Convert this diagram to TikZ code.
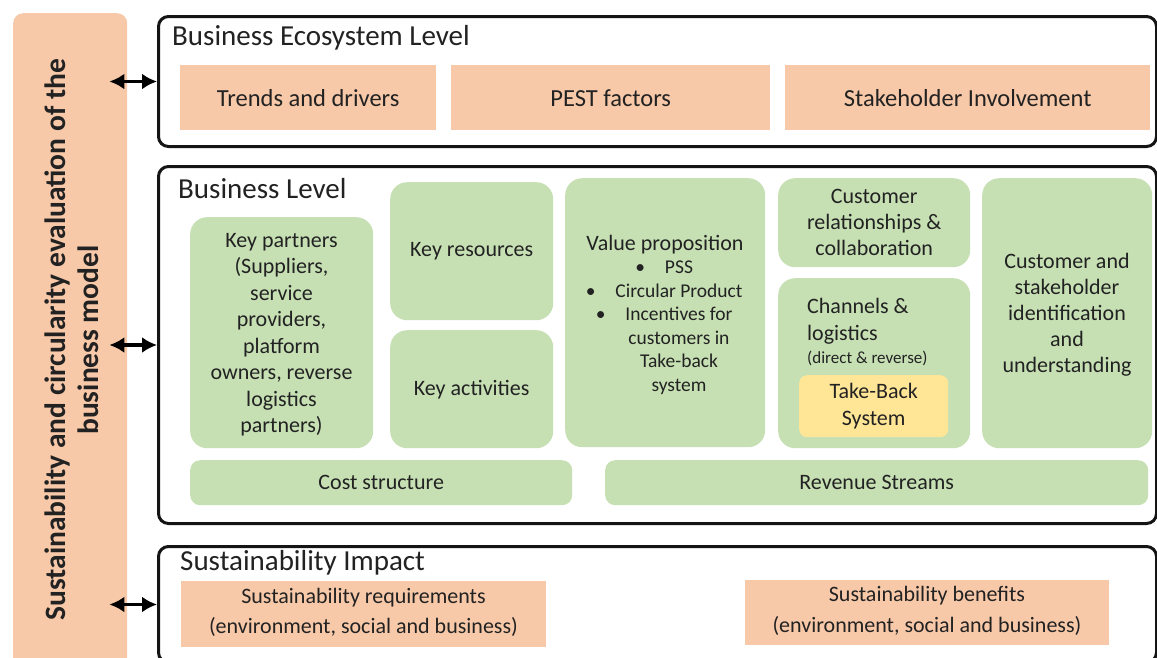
\documentclass[tikz,border=0pt]{standalone}
\usepackage{fontspec}
\setmainfont{Carlito}
\usetikzlibrary{arrows.meta}
\definecolor{peachc}{HTML}{F8C9A9}
\definecolor{greenc}{HTML}{C6E0B4}
\definecolor{yellowc}{HTML}{FFE596}
\definecolor{txt}{HTML}{222222}
\newcommand{\bodyfont}{\fontsize{22}{26.5}\selectfont}
\newcommand{\itemfont}{\fontsize{19.5}{23.5}\selectfont}
\newcommand{\bul}{\llap{\textbullet\hspace{20pt}}}
\tikzset{
  sz/.style 2 args={minimum width=#1pt, minimum height=#2pt},
  frame/.style={draw=black!92, line width=3pt, rounded corners=10pt, anchor=north west, inner sep=0pt},
  peachbox/.style={fill=peachc, anchor=north west, inner sep=0pt, align=center, text=txt},
  greenbox/.style={fill=greenc, rounded corners=17pt, anchor=north west, inner sep=0pt, align=center, text=txt},
  label/.style={inner sep=0pt, text=txt, anchor=base},
  levelname/.style={anchor=base west, inner sep=0pt, text=txt, font=\fontsize{29}{33}\selectfont},
  link/.style={{Latex[length=15pt,width=16pt]}-{Latex[length=15pt,width=16pt]}, line width=3.5pt, black}
}
\begin{document}
\begin{tikzpicture}[x=1pt,y=-1pt]
\useasboundingbox (0,0) rectangle (1157,657);
\fill[white] (0,0) rectangle (1157,657);

% evaluation bar on the left
\node[fill=peachc, rounded corners=10pt, anchor=north west, inner sep=0pt, sz={114}{680}] (bar) at (13,13) {};
\node[rotate=90, align=center, text=txt, font=\bfseries\fontsize{29.5}{33}\selectfont] (bartext) at (72,340)
  {Sustainability and circularity evaluation of the\\business model};

% business ecosystem level
\node[frame, sz={998}{130}] (eco) at (157,15) {};
\node[levelname] (ecot) at (172,45) {Business Ecosystem Level};
\node[peachbox, sz={256}{65}, font=\fontsize{24.5}{28}\selectfont] (trends) at (180,65) {Trends and drivers};
\node[peachbox, sz={319}{65}, font=\fontsize{24.5}{28}\selectfont] (pest) at (451,65) {PEST factors};
\node[peachbox, sz={365}{65}, font=\fontsize{24.5}{28}\selectfont] (stake) at (785,65) {Stakeholder Involvement};

% business level
\node[frame, sz={998}{357}] (bus) at (157,165) {};
\node[levelname] (bust) at (178,198) {Business Level};
\node[greenbox, sz={183}{231}] (partners) at (190,217) {};
\node[label, font=\bodyfont] (partnerst) at (281.5,247)
  {\begin{tabular}[t]{@{}c@{}}Key partners\\(Suppliers,\\service\\providers,\\platform\\owners, reverse\\logistics\\partners)\end{tabular}};
\node[greenbox, sz={163}{138}, font=\bodyfont] (resources) at (390,182) {Key resources};
\node[greenbox, sz={163}{118}, font=\bodyfont] (activities) at (390,330) {Key activities};
\node[greenbox, sz={200}{269}] (value) at (565,178) {};
\node[label, font=\itemfont] (valuet) at (679,250)
  {\begin{tabular}[t]{@{}c@{}}
   \fontsize{22}{26}\selectfont\hspace*{-28pt}Value proposition\\
   \bul PSS\\
   \bul Circular Product\\
   \bul Incentives for\\
   customers in\\
   Take-back\\
   system
   \end{tabular}};
\node[greenbox, sz={192}{89}, font=\fontsize{22}{26}\selectfont] (crel) at (778,178)
  {Customer\\relationships \&\\collaboration};
\node[greenbox, sz={192}{170}] (chan) at (778,278) {};
\node[label, anchor=base west, font=\fontsize{22}{27}\selectfont] (chant) at (807,313)
  {\begin{tabular}[t]{@{}l@{}}Channels \&\\logistics\\[-4pt]\fontsize{17}{20}\selectfont(direct \& reverse)\end{tabular}};
\node[fill=yellowc, rounded corners=8pt, anchor=north west, inner sep=0pt, align=center, text=txt,
  sz={149}{62}, font=\fontsize{22}{27}\selectfont] (takeback) at (799,375) {Take-Back\\System};
\node[greenbox, sz={170}{270}] (cust) at (982,178) {};
\node[label, font=\fontsize{22}{26.2}\selectfont] (custt) at (1067,268)
  {\begin{tabular}[t]{@{}c@{}}Customer and\\stakeholder\\identification\\and\\understanding\end{tabular}};
\node[greenbox, rounded corners=10pt, sz={382}{45}, font=\bodyfont] (cost) at (190,460) {Cost structure};
\node[greenbox, rounded corners=10pt, sz={543}{45}, font=\bodyfont] (revenue) at (605,460) {Revenue Streams};

% sustainability impact
\node[frame, sz={998}{116}] (imp) at (157,545) {};
\node[levelname] (impt) at (180,570) {Sustainability Impact};
\node[peachbox, sz={365}{66}] (req) at (181,581) {};
\node[label, font=\fontsize{22}{30}\selectfont] (reqt) at (363.5,603)
  {\begin{tabular}[t]{@{}c@{}}Sustainability requirements\\(environment, social and business)\end{tabular}};
\node[peachbox, sz={364}{65}] (ben) at (745,580) {};
\node[label, font=\fontsize{22}{31}\selectfont] (bent) at (927,601)
  {\begin{tabular}[t]{@{}c@{}}Sustainability benefits\\(environment, social and business)\end{tabular}};

% links between the evaluation bar and the three levels
\draw[link] ([xshift=-18pt]bar.east |- eco.west) -- (eco.west);
\draw[link] ([xshift=-18pt]bar.east |- bus.west) -- (bus.west);
\draw[link] ([xshift=-18pt]bar.east |- imp.west) -- (imp.west);
\end{tikzpicture}
\end{document}
